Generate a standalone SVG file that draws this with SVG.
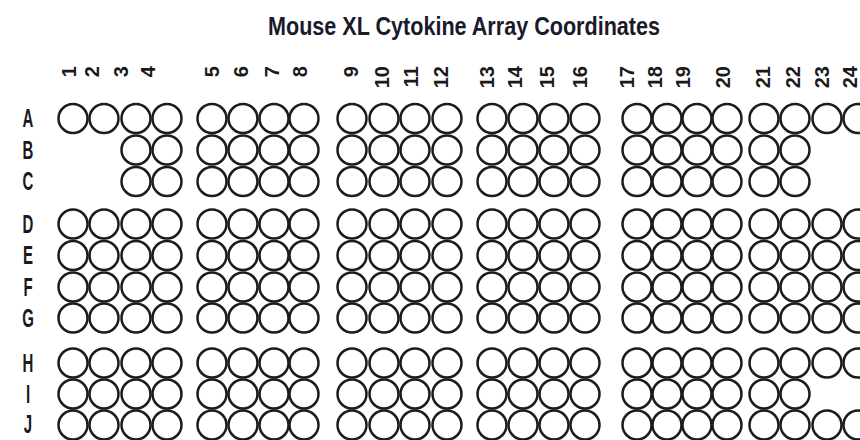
<svg xmlns="http://www.w3.org/2000/svg" xmlns:xlink="http://www.w3.org/1999/xlink" width="860" height="440" viewBox="0 0 860 440">
<style>
.title{font-family:"Liberation Sans",Arial,sans-serif;font-weight:bold;font-size:25px;fill:#1a1a2b}
.col{font-family:"Liberation Sans",Arial,sans-serif;font-weight:bold;font-size:20px;fill:#1a1a1a;text-anchor:end}
.row{font-family:"Liberation Sans",Arial,sans-serif;font-weight:bold;font-size:25px;fill:#1a1a1a;text-anchor:middle}
.spot{fill:#fff;stroke:#1c1c1c;stroke-width:2.5}
</style>
<defs>
<circle id="s" r="14.5"/>
</defs>
<rect width="860" height="440" fill="#fff"/>
<text class="title" x="268" y="35" textLength="392" lengthAdjust="spacingAndGlyphs">Mouse XL Cytokine Array Coordinates</text>
<g id="column-labels">
<text class="col" transform="translate(76,66) rotate(-90)">1</text>
<text class="col" transform="translate(99,66) rotate(-90)">2</text>
<text class="col" transform="translate(128,66) rotate(-90)">3</text>
<text class="col" transform="translate(155,66) rotate(-90)">4</text>
<text class="col" transform="translate(219,66) rotate(-90)">5</text>
<text class="col" transform="translate(248,66) rotate(-90)">6</text>
<text class="col" transform="translate(279,66) rotate(-90)">7</text>
<text class="col" transform="translate(307,66) rotate(-90)">8</text>
<text class="col" transform="translate(358,66) rotate(-90)">9</text>
<text class="col" transform="translate(389,66) rotate(-90)">10</text>
<text class="col" transform="translate(418,66) rotate(-90)">11</text>
<text class="col" transform="translate(448,66) rotate(-90)">12</text>
<text class="col" transform="translate(494,66) rotate(-90)">13</text>
<text class="col" transform="translate(522,66) rotate(-90)">14</text>
<text class="col" transform="translate(554,66) rotate(-90)">15</text>
<text class="col" transform="translate(587,66) rotate(-90)">16</text>
<text class="col" transform="translate(634,66) rotate(-90)">17</text>
<text class="col" transform="translate(662,66) rotate(-90)">18</text>
<text class="col" transform="translate(690,66) rotate(-90)">19</text>
<text class="col" transform="translate(730,66) rotate(-90)">20</text>
<text class="col" transform="translate(770,66) rotate(-90)">21</text>
<text class="col" transform="translate(800,66) rotate(-90)">22</text>
<text class="col" transform="translate(829,66) rotate(-90)">23</text>
<text class="col" transform="translate(857,66) rotate(-90)">24</text>
</g>
<g id="row-labels">
<text class="row" transform="translate(28,127) scale(0.6,1)">A</text>
<text class="row" transform="translate(28,158.5) scale(0.6,1)">B</text>
<text class="row" transform="translate(28,190) scale(0.6,1)">C</text>
<text class="row" transform="translate(28,232.5) scale(0.6,1)">D</text>
<text class="row" transform="translate(28,264) scale(0.6,1)">E</text>
<text class="row" transform="translate(28,295.5) scale(0.6,1)">F</text>
<text class="row" transform="translate(28,326.5) scale(0.6,1)">G</text>
<text class="row" transform="translate(28,371.5) scale(0.6,1)">H</text>
<text class="row" transform="translate(28,402.5) scale(0.6,1)">I</text>
<text class="row" transform="translate(28,432.5) scale(0.6,1)">J</text>
</g>
<g id="row-A" class="spot">
<use id="A1" href="#s" x="73" y="118.5"/><use id="A2" href="#s" x="104" y="118.5"/><use id="A3" href="#s" x="136" y="118.5"/><use id="A4" href="#s" x="167" y="118.5"/>
<use id="A5" href="#s" x="212" y="118.5"/><use id="A6" href="#s" x="243" y="118.5"/><use id="A7" href="#s" x="274" y="118.5"/><use id="A8" href="#s" x="304" y="118.5"/>
<use id="A9" href="#s" x="352" y="118.5"/><use id="A10" href="#s" x="384" y="118.5"/><use id="A11" href="#s" x="415" y="118.5"/><use id="A12" href="#s" x="447" y="118.5"/>
<use id="A13" href="#s" x="492" y="118.5"/><use id="A14" href="#s" x="523" y="118.5"/><use id="A15" href="#s" x="554" y="118.5"/><use id="A16" href="#s" x="585" y="118.5"/>
<use id="A17" href="#s" x="637" y="118.5"/><use id="A18" href="#s" x="667" y="118.5"/><use id="A19" href="#s" x="697" y="118.5"/><use id="A20" href="#s" x="727" y="118.5"/>
<use id="A21" href="#s" x="764" y="118.5"/><use id="A22" href="#s" x="795" y="118.5"/><use id="A23" href="#s" x="827" y="118.5"/><use id="A24" href="#s" x="858" y="118.5"/>
</g>
<g id="row-B" class="spot">
<use id="B3" href="#s" x="136" y="150"/><use id="B4" href="#s" x="167" y="150"/>
<use id="B5" href="#s" x="212" y="150"/><use id="B6" href="#s" x="243" y="150"/><use id="B7" href="#s" x="274" y="150"/><use id="B8" href="#s" x="304" y="150"/>
<use id="B9" href="#s" x="352" y="150"/><use id="B10" href="#s" x="384" y="150"/><use id="B11" href="#s" x="415" y="150"/><use id="B12" href="#s" x="447" y="150"/>
<use id="B13" href="#s" x="492" y="150"/><use id="B14" href="#s" x="523" y="150"/><use id="B15" href="#s" x="554" y="150"/><use id="B16" href="#s" x="585" y="150"/>
<use id="B17" href="#s" x="637" y="150"/><use id="B18" href="#s" x="667" y="150"/><use id="B19" href="#s" x="697" y="150"/><use id="B20" href="#s" x="727" y="150"/>
<use id="B21" href="#s" x="764" y="150"/><use id="B22" href="#s" x="795" y="150"/>
</g>
<g id="row-C" class="spot">
<use id="C3" href="#s" x="136" y="181.5"/><use id="C4" href="#s" x="167" y="181.5"/>
<use id="C5" href="#s" x="212" y="181.5"/><use id="C6" href="#s" x="243" y="181.5"/><use id="C7" href="#s" x="274" y="181.5"/><use id="C8" href="#s" x="304" y="181.5"/>
<use id="C9" href="#s" x="352" y="181.5"/><use id="C10" href="#s" x="384" y="181.5"/><use id="C11" href="#s" x="415" y="181.5"/><use id="C12" href="#s" x="447" y="181.5"/>
<use id="C13" href="#s" x="492" y="181.5"/><use id="C14" href="#s" x="523" y="181.5"/><use id="C15" href="#s" x="554" y="181.5"/><use id="C16" href="#s" x="585" y="181.5"/>
<use id="C17" href="#s" x="637" y="181.5"/><use id="C18" href="#s" x="667" y="181.5"/><use id="C19" href="#s" x="697" y="181.5"/><use id="C20" href="#s" x="727" y="181.5"/>
<use id="C21" href="#s" x="764" y="181.5"/><use id="C22" href="#s" x="795" y="181.5"/>
</g>
<g id="row-D" class="spot">
<use id="D1" href="#s" x="73" y="224"/><use id="D2" href="#s" x="104" y="224"/><use id="D3" href="#s" x="136" y="224"/><use id="D4" href="#s" x="167" y="224"/>
<use id="D5" href="#s" x="212" y="224"/><use id="D6" href="#s" x="243" y="224"/><use id="D7" href="#s" x="274" y="224"/><use id="D8" href="#s" x="304" y="224"/>
<use id="D9" href="#s" x="352" y="224"/><use id="D10" href="#s" x="384" y="224"/><use id="D11" href="#s" x="415" y="224"/><use id="D12" href="#s" x="447" y="224"/>
<use id="D13" href="#s" x="492" y="224"/><use id="D14" href="#s" x="523" y="224"/><use id="D15" href="#s" x="554" y="224"/><use id="D16" href="#s" x="585" y="224"/>
<use id="D17" href="#s" x="637" y="224"/><use id="D18" href="#s" x="667" y="224"/><use id="D19" href="#s" x="697" y="224"/><use id="D20" href="#s" x="727" y="224"/>
<use id="D21" href="#s" x="764" y="224"/><use id="D22" href="#s" x="795" y="224"/><use id="D23" href="#s" x="827" y="224"/><use id="D24" href="#s" x="858" y="224"/>
</g>
<g id="row-E" class="spot">
<use id="E1" href="#s" x="73" y="255.5"/><use id="E2" href="#s" x="104" y="255.5"/><use id="E3" href="#s" x="136" y="255.5"/><use id="E4" href="#s" x="167" y="255.5"/>
<use id="E5" href="#s" x="212" y="255.5"/><use id="E6" href="#s" x="243" y="255.5"/><use id="E7" href="#s" x="274" y="255.5"/><use id="E8" href="#s" x="304" y="255.5"/>
<use id="E9" href="#s" x="352" y="255.5"/><use id="E10" href="#s" x="384" y="255.5"/><use id="E11" href="#s" x="415" y="255.5"/><use id="E12" href="#s" x="447" y="255.5"/>
<use id="E13" href="#s" x="492" y="255.5"/><use id="E14" href="#s" x="523" y="255.5"/><use id="E15" href="#s" x="554" y="255.5"/><use id="E16" href="#s" x="585" y="255.5"/>
<use id="E17" href="#s" x="637" y="255.5"/><use id="E18" href="#s" x="667" y="255.5"/><use id="E19" href="#s" x="697" y="255.5"/><use id="E20" href="#s" x="727" y="255.5"/>
<use id="E21" href="#s" x="764" y="255.5"/><use id="E22" href="#s" x="795" y="255.5"/><use id="E23" href="#s" x="827" y="255.5"/><use id="E24" href="#s" x="858" y="255.5"/>
</g>
<g id="row-F" class="spot">
<use id="F1" href="#s" x="73" y="287"/><use id="F2" href="#s" x="104" y="287"/><use id="F3" href="#s" x="136" y="287"/><use id="F4" href="#s" x="167" y="287"/>
<use id="F5" href="#s" x="212" y="287"/><use id="F6" href="#s" x="243" y="287"/><use id="F7" href="#s" x="274" y="287"/><use id="F8" href="#s" x="304" y="287"/>
<use id="F9" href="#s" x="352" y="287"/><use id="F10" href="#s" x="384" y="287"/><use id="F11" href="#s" x="415" y="287"/><use id="F12" href="#s" x="447" y="287"/>
<use id="F13" href="#s" x="492" y="287"/><use id="F14" href="#s" x="523" y="287"/><use id="F15" href="#s" x="554" y="287"/><use id="F16" href="#s" x="585" y="287"/>
<use id="F17" href="#s" x="637" y="287"/><use id="F18" href="#s" x="667" y="287"/><use id="F19" href="#s" x="697" y="287"/><use id="F20" href="#s" x="727" y="287"/>
<use id="F21" href="#s" x="764" y="287"/><use id="F22" href="#s" x="795" y="287"/><use id="F23" href="#s" x="827" y="287"/><use id="F24" href="#s" x="858" y="287"/>
</g>
<g id="row-G" class="spot">
<use id="G1" href="#s" x="73" y="318"/><use id="G2" href="#s" x="104" y="318"/><use id="G3" href="#s" x="136" y="318"/><use id="G4" href="#s" x="167" y="318"/>
<use id="G5" href="#s" x="212" y="318"/><use id="G6" href="#s" x="243" y="318"/><use id="G7" href="#s" x="274" y="318"/><use id="G8" href="#s" x="304" y="318"/>
<use id="G9" href="#s" x="352" y="318"/><use id="G10" href="#s" x="384" y="318"/><use id="G11" href="#s" x="415" y="318"/><use id="G12" href="#s" x="447" y="318"/>
<use id="G13" href="#s" x="492" y="318"/><use id="G14" href="#s" x="523" y="318"/><use id="G15" href="#s" x="554" y="318"/><use id="G16" href="#s" x="585" y="318"/>
<use id="G17" href="#s" x="637" y="318"/><use id="G18" href="#s" x="667" y="318"/><use id="G19" href="#s" x="697" y="318"/><use id="G20" href="#s" x="727" y="318"/>
<use id="G21" href="#s" x="764" y="318"/><use id="G22" href="#s" x="795" y="318"/><use id="G23" href="#s" x="827" y="318"/><use id="G24" href="#s" x="858" y="318"/>
</g>
<g id="row-H" class="spot">
<use id="H1" href="#s" x="73" y="363"/><use id="H2" href="#s" x="104" y="363"/><use id="H3" href="#s" x="136" y="363"/><use id="H4" href="#s" x="167" y="363"/>
<use id="H5" href="#s" x="212" y="363"/><use id="H6" href="#s" x="243" y="363"/><use id="H7" href="#s" x="274" y="363"/><use id="H8" href="#s" x="304" y="363"/>
<use id="H9" href="#s" x="352" y="363"/><use id="H10" href="#s" x="384" y="363"/><use id="H11" href="#s" x="415" y="363"/><use id="H12" href="#s" x="447" y="363"/>
<use id="H13" href="#s" x="492" y="363"/><use id="H14" href="#s" x="523" y="363"/><use id="H15" href="#s" x="554" y="363"/><use id="H16" href="#s" x="585" y="363"/>
<use id="H17" href="#s" x="637" y="363"/><use id="H18" href="#s" x="667" y="363"/><use id="H19" href="#s" x="697" y="363"/><use id="H20" href="#s" x="727" y="363"/>
<use id="H21" href="#s" x="764" y="363"/><use id="H22" href="#s" x="795" y="363"/><use id="H23" href="#s" x="827" y="363"/><use id="H24" href="#s" x="858" y="363"/>
</g>
<g id="row-I" class="spot">
<use id="I1" href="#s" x="73" y="394"/><use id="I2" href="#s" x="104" y="394"/><use id="I3" href="#s" x="136" y="394"/><use id="I4" href="#s" x="167" y="394"/>
<use id="I5" href="#s" x="212" y="394"/><use id="I6" href="#s" x="243" y="394"/><use id="I7" href="#s" x="274" y="394"/><use id="I8" href="#s" x="304" y="394"/>
<use id="I9" href="#s" x="352" y="394"/><use id="I10" href="#s" x="384" y="394"/><use id="I11" href="#s" x="415" y="394"/><use id="I12" href="#s" x="447" y="394"/>
<use id="I13" href="#s" x="492" y="394"/><use id="I14" href="#s" x="523" y="394"/><use id="I15" href="#s" x="554" y="394"/><use id="I16" href="#s" x="585" y="394"/>
<use id="I17" href="#s" x="637" y="394"/><use id="I18" href="#s" x="667" y="394"/><use id="I19" href="#s" x="697" y="394"/><use id="I20" href="#s" x="727" y="394"/>
<use id="I21" href="#s" x="764" y="394"/><use id="I22" href="#s" x="795" y="394"/>
</g>
<g id="row-J" class="spot">
<use id="J1" href="#s" x="73" y="425"/><use id="J2" href="#s" x="104" y="425"/><use id="J3" href="#s" x="136" y="425"/><use id="J4" href="#s" x="167" y="425"/>
<use id="J5" href="#s" x="212" y="425"/><use id="J6" href="#s" x="243" y="425"/><use id="J7" href="#s" x="274" y="425"/><use id="J8" href="#s" x="304" y="425"/>
<use id="J9" href="#s" x="352" y="425"/><use id="J10" href="#s" x="384" y="425"/><use id="J11" href="#s" x="415" y="425"/><use id="J12" href="#s" x="447" y="425"/>
<use id="J13" href="#s" x="492" y="425"/><use id="J14" href="#s" x="523" y="425"/><use id="J15" href="#s" x="554" y="425"/><use id="J16" href="#s" x="585" y="425"/>
<use id="J17" href="#s" x="637" y="425"/><use id="J18" href="#s" x="667" y="425"/><use id="J19" href="#s" x="697" y="425"/><use id="J20" href="#s" x="727" y="425"/>
<use id="J21" href="#s" x="764" y="425"/><use id="J22" href="#s" x="795" y="425"/><use id="J23" href="#s" x="827" y="425"/><use id="J24" href="#s" x="858" y="425"/>
</g>
</svg>
